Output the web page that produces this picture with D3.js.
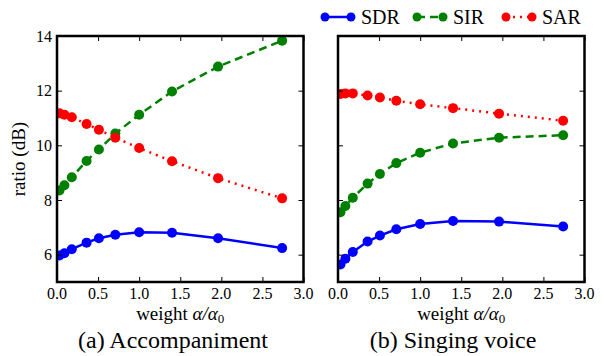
<!DOCTYPE html>
<html>
<head>
<meta charset="utf-8">
<script src="https://cdn.jsdelivr.net/npm/d3@7"></script>
<style>
  body { margin: 0; background: #fff; }
</style>
</head>
<body>
<div id="chart"></div>
<script>
// weight alpha/alpha0 values (shared by both panels)
const weights = [0.03, 0.09, 0.18, 0.36, 0.51, 0.71, 1.0, 1.4, 1.96, 2.74];

// (a) Accompaniment
const accSDR = [5.97, 6.05, 6.2, 6.44, 6.6, 6.73, 6.82, 6.8, 6.6, 6.24];
const accSIR = [8.35, 8.54, 8.83, 9.43, 9.85, 10.43, 11.12, 11.97, 12.88, 13.83];
const accSAR = [11.17, 11.12, 11.03, 10.78, 10.57, 10.28, 9.9, 9.42, 8.8, 8.06];

// (b) Singing voice
const voxSDR = [5.64, 5.85, 6.1, 6.48, 6.7, 6.93, 7.12, 7.23, 7.21, 7.03];
const voxSIR = [7.55, 7.78, 8.08, 8.6, 8.95, 9.35, 9.73, 10.07, 10.28, 10.37];
const voxSAR = [11.88, 11.9, 11.9, 11.82, 11.75, 11.63, 11.5, 11.36, 11.16, 10.9];

const xTicks = [0, 0.5, 1.0, 1.5, 2.0, 2.5, 3.0];
const yTicks = [6, 8, 10, 12, 14];
const seriesNames = ["SDR", "SIR", "SAR"];

const W = 604, H = 356;
const plotTop = 36, plotBottom = 282;
const serif = "'Liberation Serif'";

const svg = d3.select("#chart").append("svg")
    .attr("width", W)
    .attr("height", H);

const y = d3.scaleLinear().domain([5, 14]).range([plotBottom, plotTop]);

const styles = {
    SDR: {color: "#0000ff", dash: null},
    SIR: {color: "#008000", dash: "8,5"},
    SAR: {color: "#ff0000", dash: "2,5"}
};

function label(sel, size) {
    return sel.style("font-family", serif).style("font-size", size + "px").attr("fill", "#000");
}

function drawPanel(id, x0, x1, series, caption, captionX, showYLabels) {
    const x = d3.scaleLinear().domain([0, 3]).range([x0, x1]);
    const g = svg.append("g");

    g.append("clipPath").attr("id", "clip-" + id)
        .append("rect")
        .attr("x", x0).attr("y", plotTop)
        .attr("width", x1 - x0).attr("height", plotBottom - plotTop);

    const plot = g.append("g").attr("clip-path", `url(#clip-${id})`);

    seriesNames.forEach((name, i) => {
        const pts = weights.map((w, j) => [w, series[i][j]]);
        const line = d3.line().x(d => x(d[0])).y(d => y(d[1]));
        plot.append("path")
            .attr("d", line(pts))
            .attr("fill", "none")
            .attr("stroke", styles[name].color)
            .attr("stroke-width", 2.5)
            .attr("stroke-dasharray", styles[name].dash);
        plot.selectAll(null)
            .data(pts)
            .enter()
            .append("circle")
            .attr("cx", d => x(d[0]))
            .attr("cy", d => y(d[1]))
            .attr("r", 5)
            .attr("fill", styles[name].color);
    });

    // ticks pointing inwards on all four sides
    g.append("g")
        .attr("transform", `translate(0,${plotBottom})`)
        .call(d3.axisTop(x).tickValues(xTicks).tickSize(5).tickFormat(""))
        .call(a => a.select(".domain").remove());
    g.append("g")
        .attr("transform", `translate(0,${plotTop})`)
        .call(d3.axisBottom(x).tickValues(xTicks).tickSize(5).tickFormat(""))
        .call(a => a.select(".domain").remove());
    g.append("g")
        .attr("transform", `translate(${x0},0)`)
        .call(d3.axisRight(y).tickValues(yTicks).tickSize(5).tickFormat(""))
        .call(a => a.select(".domain").remove());
    g.append("g")
        .attr("transform", `translate(${x1},0)`)
        .call(d3.axisLeft(y).tickValues(yTicks).tickSize(5).tickFormat(""))
        .call(a => a.select(".domain").remove());
    g.selectAll(".tick line").attr("stroke", "#000").attr("stroke-width", 1);

    // frame
    g.append("rect")
        .attr("x", x0).attr("y", plotTop)
        .attr("width", x1 - x0).attr("height", plotBottom - plotTop)
        .attr("fill", "none")
        .attr("stroke", "#000")
        .attr("stroke-width", 2.5);

    // x tick labels
    g.selectAll(null)
        .data(xTicks)
        .enter()
        .append("text")
        .attr("x", d => x(d))
        .attr("y", 299)
        .attr("text-anchor", "middle")
        .call(label, 16)
        .text(d => d3.format(".1f")(d));

    if (showYLabels) {
        g.selectAll(null)
            .data(yTicks)
            .enter()
            .append("text")
            .attr("x", x0 - 5)
            .attr("y", d => y(d))
            .attr("dy", "0.35em")
            .attr("text-anchor", "end")
            .call(label, 16)
            .text(d => d);
    }

    // x axis label: weight α/α0
    const xl = g.append("text")
        .attr("x", (x0 + x1) / 2)
        .attr("y", 320)
        .attr("text-anchor", "middle")
        .call(label, 19);
    xl.append("tspan").text("weight ");
    xl.append("tspan").style("font-style", "italic").text("α/α");
    xl.append("tspan").attr("dy", 3).style("font-size", "13px").text("0");

    g.append("text")
        .attr("x", captionX)
        .attr("y", 348)
        .attr("text-anchor", "middle")
        .call(label, 24)
        .text(caption);
}

drawPanel("a", 57, 303.5, [accSDR, accSIR, accSAR], "(a) Accompaniment", 173, true);
drawPanel("b", 338, 584.5, [voxSDR, voxSIR, voxSAR], "(b) Singing voice", 453, false);

// y axis label
svg.append("text")
    .attr("transform", `translate(25,${(plotTop + plotBottom) / 2}) rotate(-90)`)
    .attr("text-anchor", "middle")
    .call(label, 19)
    .text("ratio (dB)");

// legend
const legendItems = [
    {name: "SDR", x: 325},
    {name: "SIR", x: 417},
    {name: "SAR", x: 506}
];
const legend = svg.append("g");
legendItems.forEach(item => {
    const st = styles[item.name];
    legend.append("line")
        .attr("x1", item.x).attr("x2", item.x + 26)
        .attr("y1", 17).attr("y2", 17)
        .attr("stroke", st.color)
        .attr("stroke-width", 2.5)
        .attr("stroke-dasharray", st.dash);
    [item.x, item.x + 26].forEach(cx => {
        legend.append("circle")
            .attr("cx", cx).attr("cy", 17).attr("r", 4.5)
            .attr("fill", st.color);
    });
    legend.append("text")
        .attr("x", item.x + 36)
        .attr("y", 24)
        .call(label, 20)
        .text(item.name);
});
</script>
</body>
</html>
